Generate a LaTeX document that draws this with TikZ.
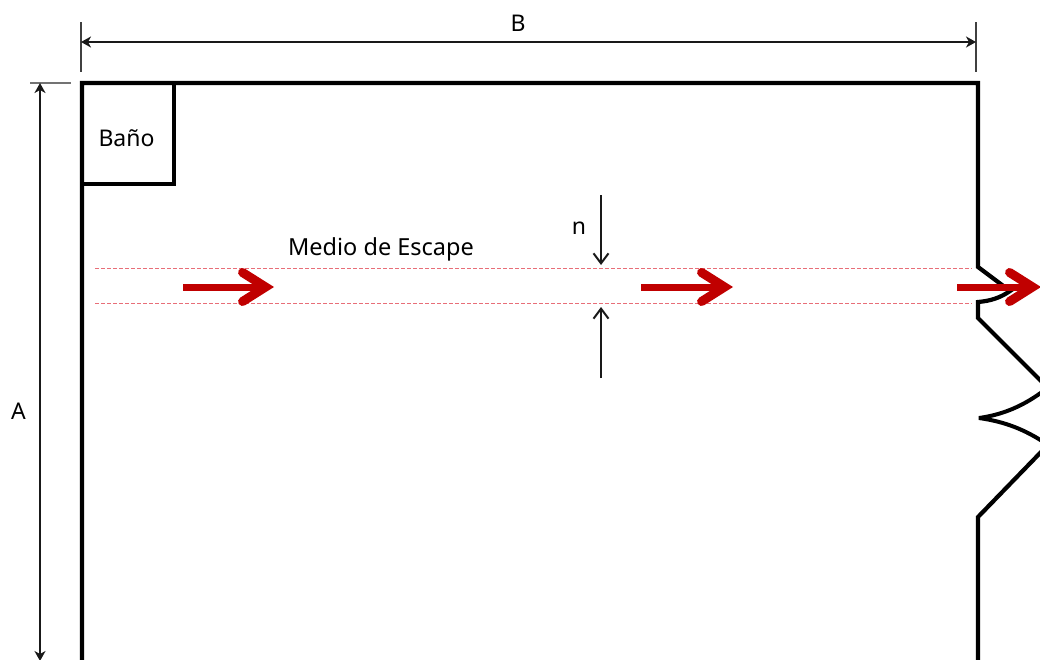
\documentclass[tikz,border=0pt]{standalone}
\usepackage{fontspec}
\setmainfont{Noto Sans}
\usetikzlibrary{arrows.meta}
\definecolor{exitred}{RGB}{192,0,0}
\definecolor{dashred}{RGB}{232,110,120}
\tikzset{
  wall/.style={draw=black,line width=4.2pt,line join=miter},
  leaf/.style={draw=black,line width=4pt,line join=bevel},
  dimline/.style={draw=black!90,line width=1.8pt,{Stealth[length=10pt,width=11pt,inset=3pt]}-{Stealth[length=10pt,width=11pt,inset=3pt]}},
  tick/.style={draw=black!75,line width=1.5pt},
  openarrow/.style={draw=black!90,line width=1.8pt,-{Straight Barb[length=10pt,width=15pt,line width=2pt]}},
  exitline/.style={draw=dashred,line width=1.3pt,dash pattern=on 3.5pt off 2.5pt},
  exitarrow/.style={draw=exitred,line width=7pt,-{Straight Barb[length=23pt,width=29pt,line width=9pt,line cap=round,line join=miter]}},
  lbl/.style={font=\fontsize{23}{25}\selectfont,text=black,inner sep=0pt}
}
\begin{document}
\begin{tikzpicture}[x=1pt,y=-1pt]
\useasboundingbox (0,0) rectangle (1040,659);
% coordinates
\coordinate (wallBL) at (82,661);
\coordinate (wallTL) at (82,83);
\coordinate (wallTR) at (978,83);
\coordinate (d1a) at (978,267);
\coordinate (d1b) at (1010,291);
\coordinate (d1c) at (978,302);
\coordinate (d1d) at (978,318);
\coordinate (d2a) at (1042,382);
\coordinate (d2b) at (1042,392);
\coordinate (d2c) at (979,418);
\coordinate (d2d) at (1042,441);
\coordinate (d2e) at (1042,451);
\coordinate (d2f) at (978,517);
\coordinate (wallBR) at (978,661);
\coordinate (bathL) at (82,184);
\coordinate (bathC) at (174,184);
\coordinate (bathT) at (174,83);
% walls
\clip (0,0) rectangle (1040,659);
\draw[wall] (wallBL) -- (wallTL) -- (wallTR) -- (d1a) -- (d1b)
  .. controls (1000,298) and (990,301) .. (d1c) -- (d1d) -- (d2a);
\draw[leaf] (d2b) .. controls (1020,408) and (1000,415) .. (d2c)
  .. controls (1000,421) and (1020,427) .. (d2d);
\draw[wall] (d2e) -- (d2f) -- (wallBR);
\draw[wall] (bathL) -- (bathC) -- (bathT);
\node[lbl] (bano) at (126.5,138) {Baño};
% dimension B
\coordinate (b1t) at (81,22);
\coordinate (b1b) at (81,72);
\coordinate (b2t) at (976,22);
\coordinate (b2b) at (976,72);
\coordinate (bL) at (81,42);
\coordinate (bR) at (976,42);
\draw[tick] (b1t) -- (b1b);
\draw[tick] (b2t) -- (b2b);
\draw[dimline] (bL) -- (bR);
\node[lbl] (labB) at (518,23) {B};
% dimension A
\coordinate (a1) at (30,83);
\coordinate (a2) at (71,83);
\coordinate (aT) at (40,83);
\coordinate (aB) at (40,661);
\draw[tick,draw=black!55] (a1) -- (a2);
\draw[dimline] (aT) -- (aB);
\node[lbl] (labA) at (18.5,411) {A};
% escape corridor
\coordinate (e1) at (95,268.5);
\coordinate (e2) at (972,268.5);
\coordinate (e3) at (95,303.5);
\coordinate (e4) at (972,303.5);
\draw[exitline] (e1) -- (e2);
\draw[exitline] (e3) -- (e4);
\node[lbl,font=\fontsize{23.5}{26}\selectfont] (medio) at (381,249.5) {Medio de Escape};
% n
\coordinate (n1) at (601,195);
\coordinate (n2) at (601,265);
\coordinate (n3) at (601,378);
\coordinate (n4) at (601,307);
\draw[openarrow] (n1) -- (n2);
\draw[openarrow] (n3) -- (n4);
\node[lbl] (labn) at (579,228) {n};
% red arrows
\coordinate (r1a) at (183,287);
\coordinate (r1b) at (274,287);
\coordinate (r2a) at (641,287);
\coordinate (r2b) at (733,287);
\coordinate (r3a) at (957,287);
\coordinate (r3b) at (1041,287);
\draw[exitarrow] (r1a) -- (r1b);
\draw[exitarrow] (r2a) -- (r2b);
\draw[exitarrow] (r3a) -- (r3b);
\end{tikzpicture}
\end{document}
